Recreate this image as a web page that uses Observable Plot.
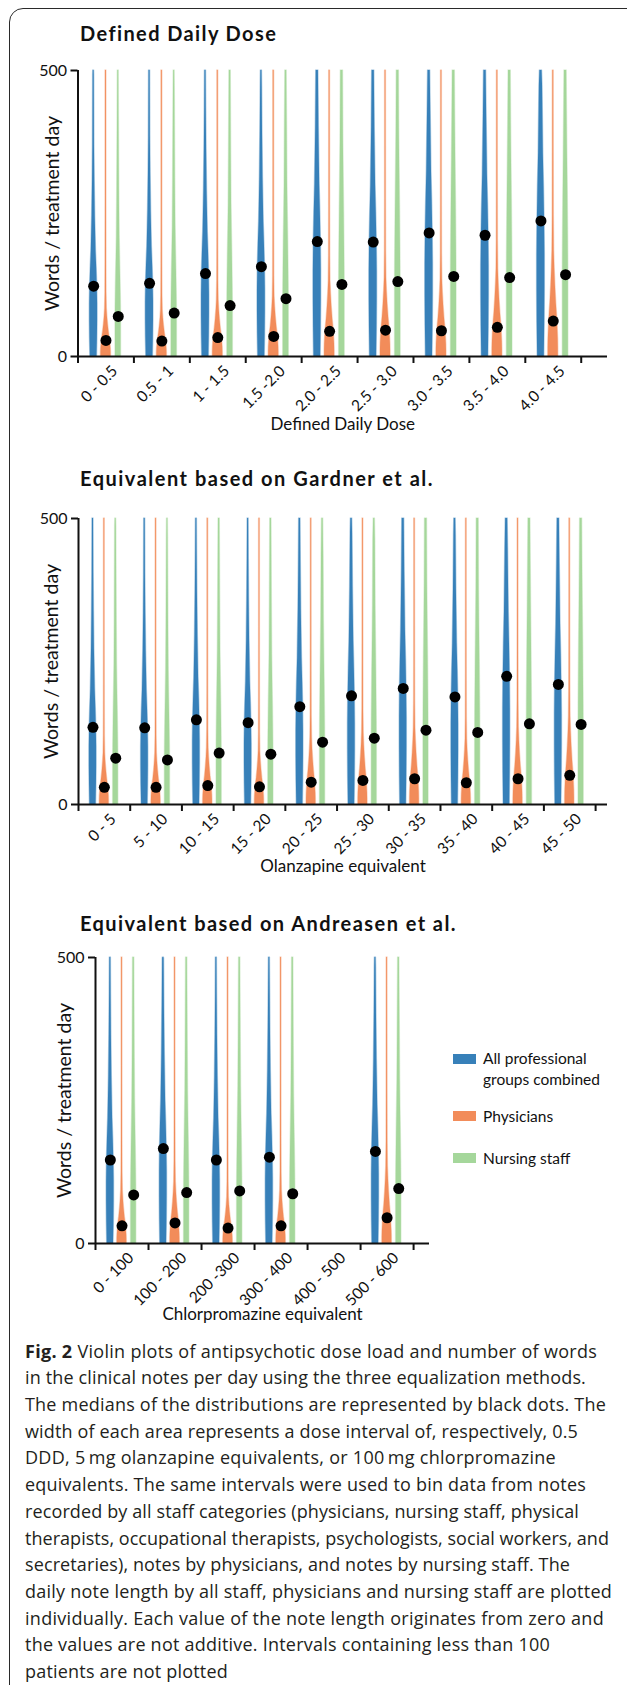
<!DOCTYPE html>
<html>
<head>
<meta charset="utf-8">
<script src="https://cdn.jsdelivr.net/npm/d3@7"></script>
<script src="https://cdn.jsdelivr.net/npm/@observablehq/plot@0.6"></script>
<style>
  html, body { margin: 0; padding: 0; background: #fff; }
  body { width: 627px; height: 1685px; position: relative; overflow: hidden; font-family: Lato, sans-serif; color: #111; }
  #box { position: absolute; left: 9px; top: 8px; width: 700px; height: 1800px; border: 1.5px solid #2a2a2a; border-radius: 14px; box-sizing: border-box; }
  .title { position: absolute; left: 80px; font-weight: 700; font-size: 20px; line-height: 20px; white-space: nowrap; color: #111; }
  .plot { position: absolute; left: 0; }
  .legend { position: absolute; left: 453px; font-size: 15.5px; line-height: 21px; color: #111; }
  .legend .sw { position: absolute; left: 0; width: 23px; height: 10px; }
  .legend .tx { position: absolute; left: 30px; white-space: pre; }
  #caption { position: absolute; left: 25px; top: 1337.6px; font-family: "Open Sans", sans-serif; font-size: 18px; line-height: 26.7px; color: #231f20; }
  #caption div { white-space: nowrap; }
</style>
</head>
<body>
<div id="box"></div>
<div class="title" id="t1" style="top:22.5px">Defined Daily Dose</div>
<div class="title" id="t2" style="top:467.5px">Equivalent based on Gardner et al.</div>
<div class="title" id="t3" style="top:912.8px">Equivalent based on Andreasen et al.</div>
<div class="plot" id="p1" style="top:50px"></div>
<div class="plot" id="p2" style="top:498px"></div>
<div class="plot" id="p3" style="top:937px"></div>
<div class="legend" id="legend"></div>
<div id="caption"></div>
<script>
// ---------- data ----------
const seriesNames = ["All professional\ngroups combined", "Physicians", "Nursing staff"];
const seriesColors = ["#3780b9", "#f28c5a", "#a5d79b"];

// Panel 1: Defined Daily Dose
const dddLabels = ["0 - 0.5", "0.5 - 1", "1 - 1.5", "1.5 -2.0", "2.0 - 2.5", "2.5 - 3.0", "3.0 - 3.5", "3.5 - 4.0", "4.0 - 4.5"];
const dddAll  = [123, 128, 145, 157, 201, 200, 216, 212, 237];
const dddPhys = [28, 27, 33, 35, 44, 46, 45, 51, 62];
const dddNurs = [70, 76, 89, 101, 126, 131, 140, 138, 143];

// Panel 2: Olanzapine equivalent (Gardner et al.)
const olzLabels = ["0 - 5", "5 - 10", "10 - 15", "15 - 20", "20 - 25", "25 - 30", "30 - 35", "35 - 40", "40 - 45", "45 - 50"];
const olzAll  = [135, 134, 148, 143, 171, 190, 203, 188, 224, 210];
const olzPhys = [30, 30, 33, 31, 39, 42, 45, 38, 45, 51];
const olzNurs = [81, 78, 90, 88, 109, 116, 130, 126, 141, 140];

// Panel 3: Chlorpromazine equivalent (Andreasen et al.); 400 - 500 not plotted
const cpzLabels = ["0 - 100", "100 - 200", "200 -300", "300 - 400", "400 - 500", "500 - 600"];
const cpzAll  = [146, 166, 146, 151, null, 161];
const cpzPhys = [31, 36, 27, 31, null, 45];
const cpzNurs = [85, 89, 92, 87, null, 96];

// Approximate violin outlines: relative density at multiples of each median
const relLevels   = [0, 0.25, 0.5, 0.75, 1, 1.25, 1.5, 2, 2.5, 3, 4, 6, 10];
const allDensity  = [0.85, 0.95, 1, 1, 0.92, 0.78, 0.6, 0.4, 0.28, 0.2, 0.15, 0.12, 0.1];
const physDensity = [1, 1, 0.97, 0.9, 0.82, 0.72, 0.6, 0.42, 0.28, 0.18, 0.12, 0.1, 0.09];
const nursDensity = [1, 1, 1, 1, 1, 0.97, 0.92, 0.8, 0.65, 0.52, 0.4, 0.25, 0.18];

const captionLines = [
  "<b>Fig. 2</b> Violin plots of antipsychotic dose load and number of words",
  "in the clinical notes per day using the three equalization methods.",
  "The medians of the distributions are represented by black dots. The",
  "width of each area represents a dose interval of, respectively, 0.5",
  "DDD, 5\u2009mg olanzapine equivalents, or 100\u2009mg chlorpromazine",
  "equivalents. The same intervals were used to bin data from notes",
  "recorded by all staff categories (physicians, nursing staff, physical",
  "therapists, occupational therapists, psychologists, social workers, and",
  "secretaries), notes by physicians, and notes by nursing staff. The",
  "daily note length by all staff, physicians and nursing staff are plotted",
  "individually. Each value of the note length originates from zero and",
  "the values are not additive. Intervals containing less than 100",
  "patients are not plotted"
];
// right edge of each caption line in the reference (page pixels)
const captionLineEnds = [606, 586, 606, 578, 556, 586, 579, 609, 570, 612, 604, 550, 228];

// ---------- drawing ----------
const densities = [allDensity, physDensity, nursDensity];
const halfWidths = [0.07, 0.09, 0.05];      // fraction of one interval
const groupOffsets = [-0.22, 0, 0.22];

const panels = [
  {el: "p1", labels: dddLabels, series: [dddAll, dddPhys, dddNurs], xLabel: "Defined Daily Dose", xMax: 9.47, marginLeft: 77.5, marginRight: 20, ylabDx: -25, xlabDy: 68},
  {el: "p2", labels: olzLabels, series: [olzAll, olzPhys, olzNurs], xLabel: "Olanzapine equivalent", xMax: 10.23, marginLeft: 78, marginRight: 20, ylabDx: -27, xlabDy: 62},
  {el: "p3", labels: cpzLabels, series: [cpzAll, cpzPhys, cpzNurs], xLabel: "Chlorpromazine equivalent", xMax: 6.3, marginLeft: 95, marginRight: 198, ylabDx: -31, xlabDy: 71}
];

function buildPanel(p) {
  const violins = [[], [], []];
  const medians = [];
  p.series.forEach((vals, s) => {
    vals.forEach((m, i) => {
      if (m == null) return;
      const cx = i + 0.5 + groupOffsets[s];
      medians.push({x: cx, v: m});
      let lastHw = 0, lastV = 0;
      for (let k = 0; k < relLevels.length; k++) {
        const v = Math.min(relLevels[k] * m, 500);
        const hw = halfWidths[s] * densities[s][k];
        violins[s].push({id: s + "-" + i, v, x1: cx - hw, x2: cx + hw});
        lastHw = hw; lastV = v;
        if (v >= 500) break;
      }
      if (lastV < 500) violins[s].push({id: s + "-" + i, v: 500, x1: cx - lastHw, x2: cx + lastHw});
    });
  });
  const n = p.labels.length;
  const chart = Plot.plot({
    width: 627, height: 400,
    marginLeft: p.marginLeft, marginRight: p.marginRight, marginTop: 20, marginBottom: 94,
    x: {domain: [0, p.xMax], axis: null},
    y: {domain: [0, 500], axis: null},
    style: {fontFamily: "Lato, sans-serif", fontSize: "15px", color: "#111", background: "transparent", overflow: "visible"},
    marks: [
      ...violins.map((rows, s) => Plot.areaX(rows, {y: "v", x1: "x1", x2: "x2", z: "id", fill: seriesColors[s], stroke: seriesColors[s], strokeOpacity: 0.35, strokeWidth: 1.4})),
      Plot.dot(medians, {x: "x", y: "v", r: 5.5, fill: "black"}),
      Plot.ruleY([0], {stroke: "#111", strokeWidth: 2}),
      Plot.ruleX([0], {stroke: "#111", strokeWidth: 2}),
      Plot.axisY({ticks: [0, 500], tickSize: 7, tickPadding: 4, fontSize: 16, strokeWidth: 2, label: null}),
      Plot.axisX({ticks: d3.range(0, n + 1), tickSize: 7, tickFormat: () => "", strokeWidth: 2, label: null}),
      Plot.text(p.labels, {x: (d, i) => i + 0.5, frameAnchor: "bottom", text: d => d, rotate: -45, textAnchor: "end", lineAnchor: "middle", dx: 9, dy: 12, fontSize: 15.5}),
      Plot.text([p.xLabel], {frameAnchor: "bottom", text: d => d, textAnchor: "middle", lineAnchor: "middle", dy: p.xlabDy, fontSize: 17}),
      Plot.text(["Words / treatment day"], {frameAnchor: "left", text: d => d, textAnchor: "middle", lineAnchor: "middle", rotate: -90, dx: p.ylabDx, fontSize: 19.5})
    ]
  });
  document.getElementById(p.el).appendChild(chart);
}
panels.forEach(buildPanel);

// legend
const legend = document.getElementById("legend");
const legendRows = [{top: 1054, txt: 1048}, {top: 1111, txt: 1105.5}, {top: 1153, txt: 1147.5}];
seriesNames.forEach((name, s) => {
  const sw = document.createElement("div");
  sw.className = "sw"; sw.style.background = seriesColors[s]; sw.style.top = legendRows[s].top + "px";
  const tx = document.createElement("div");
  tx.className = "tx"; tx.style.top = legendRows[s].txt + "px";
  tx.textContent = name;
  legend.appendChild(sw); legend.appendChild(tx);
});

// fit text widths to the reference
function spanWidth(el) {
  const span = document.createElement("span");
  span.innerHTML = el.innerHTML; span.style.whiteSpace = "nowrap";
  el.innerHTML = ""; el.appendChild(span);
  return [span.getBoundingClientRect().width, span.textContent.length];
}
[["t1", 197], ["t2", 354], ["t3", 377]].forEach(([id, target]) => {
  const el = document.getElementById(id);
  const [w, n] = spanWidth(el);
  el.style.letterSpacing = ((target - w) / n) + "px";
});

// caption, one reference line per row
const cap = document.getElementById("caption");
const capLeft = 25;
captionLines.forEach((l, i) => {
  const d = document.createElement("div");
  d.innerHTML = l;
  cap.appendChild(d);
  const [w, n] = spanWidth(d);
  const ls = Math.max(-0.6, Math.min(0.3, (captionLineEnds[i] - capLeft - w) / n));
  d.style.letterSpacing = ls + "px";
});
</script>
</body>
</html>
